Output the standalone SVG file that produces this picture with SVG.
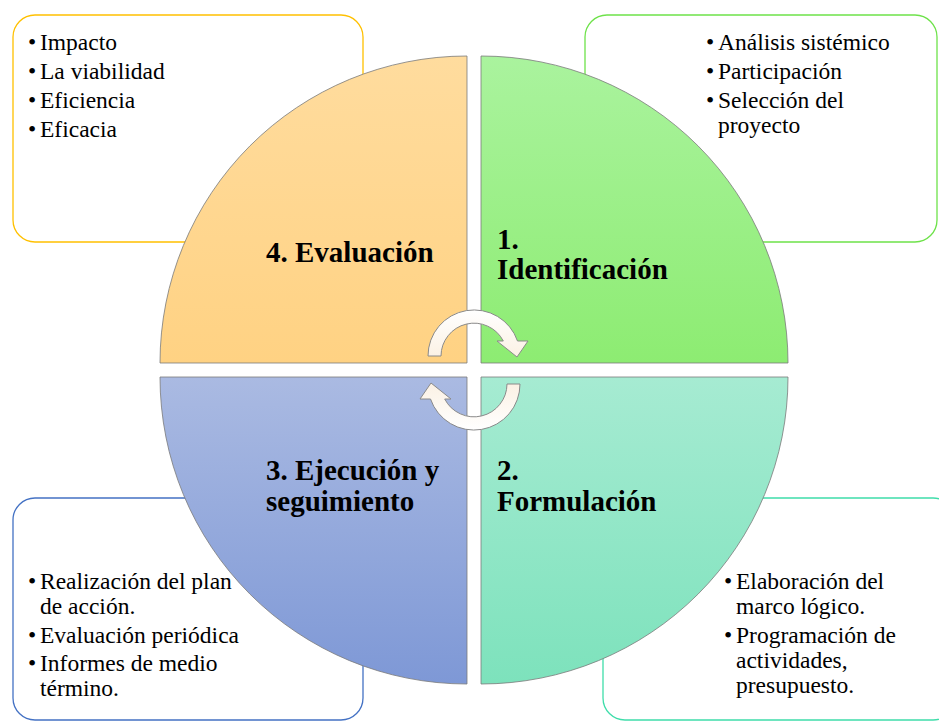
<svg xmlns="http://www.w3.org/2000/svg" width="939" height="721" viewBox="0 0 939 721">
<defs>
<linearGradient id="gTL" x1="0" y1="0" x2="0" y2="1"><stop offset="0" stop-color="#FFDC9E"/><stop offset="1" stop-color="#FFD283"/></linearGradient>
<linearGradient id="gTR" x1="0" y1="0" x2="0" y2="1"><stop offset="0" stop-color="#AAF39E"/><stop offset="1" stop-color="#8DEC72"/></linearGradient>
<linearGradient id="gBL" x1="0" y1="0" x2="0" y2="1"><stop offset="0" stop-color="#AABAE2"/><stop offset="1" stop-color="#7E98D6"/></linearGradient>
<linearGradient id="gBR" x1="0" y1="0" x2="0" y2="1"><stop offset="0" stop-color="#A6EBD2"/><stop offset="1" stop-color="#7DE2BC"/></linearGradient>
<linearGradient id="gArrow" x1="0" y1="0" x2="0" y2="1"><stop offset="0" stop-color="#FFFFFF"/><stop offset="1" stop-color="#FBF1E4"/></linearGradient>
<path id="arrow" d="M 428 356 A 46 46 0 0 1 517.5 341 L 528 341 L 517 357 L 497 341 L 503.3 341 A 33 33 0 0 0 441 356 Z"/>
</defs>
<style>
.box{fill:#fff;stroke-width:1.3}
.quad{stroke:#7a7a7a;stroke-width:1;stroke-opacity:0.8}
.t{font-family:'Liberation Serif','Tinos','Times New Roman','Noto Serif','DejaVu Serif',serif;font-size:23.5px;fill:#000}
.h{font-family:'Liberation Serif','Tinos','Times New Roman','Noto Serif','DejaVu Serif',serif;font-size:29px;font-weight:bold;fill:#000}
.arr{fill:url(#gArrow);stroke:#8a8a8a;stroke-width:1}
</style>
<rect width="939" height="721" fill="#fff"/>

<g id="box-evaluacion">
<rect class="box" x="13" y="15" width="350" height="227" rx="22" stroke="#FFC000"/>
<text class="t"><tspan x="28" y="50">•</tspan><tspan x="40" y="50">Impacto</tspan><tspan x="28" y="79">•</tspan><tspan x="40" y="79">La viabilidad</tspan><tspan x="28" y="108">•</tspan><tspan x="40" y="108">Eficiencia</tspan><tspan x="28" y="137">•</tspan><tspan x="40" y="137">Eficacia</tspan></text>
</g>
<g id="box-identificacion">
<rect class="box" x="585" y="15" width="352" height="227" rx="22" stroke="#6EE24A"/>
<text class="t"><tspan x="706" y="50">•</tspan><tspan x="718" y="50">Análisis sistémico</tspan><tspan x="706" y="79">•</tspan><tspan x="718" y="79">Participación</tspan><tspan x="706" y="108">•</tspan><tspan x="718" y="108">Selección del</tspan><tspan x="718" y="133">proyecto</tspan></text>
</g>
<g id="box-ejecucion">
<rect class="box" x="13" y="498" width="350" height="222" rx="22" stroke="#4472C4"/>
<text class="t"><tspan x="28" y="589">•</tspan><tspan x="40" y="589">Realización del plan</tspan><tspan x="40" y="614">de acción.</tspan><tspan x="28" y="643">•</tspan><tspan x="40" y="643">Evaluación periódica</tspan><tspan x="28" y="671">•</tspan><tspan x="40" y="671">Informes de medio</tspan><tspan x="40" y="696">término.</tspan></text>
</g>
<g id="box-formulacion">
<rect class="box" x="603" y="498" width="352" height="222" rx="22" stroke="#3FDDAA"/>
<text class="t"><tspan x="724" y="589">•</tspan><tspan x="736" y="589">Elaboración del</tspan><tspan x="736" y="614">marco lógico.</tspan><tspan x="724" y="643">•</tspan><tspan x="736" y="643">Programación de</tspan><tspan x="736" y="668">actividades,</tspan><tspan x="736" y="693">presupuesto.</tspan></text>
</g>

<g id="q4-evaluacion">
<path class="quad" fill="url(#gTL)" d="M 467 363 L 160 363 A 307 307 0 0 1 467 56 Z"/>
<text class="h" x="266" y="262">4. Evaluación</text>
</g>
<g id="q1-identificacion">
<path class="quad" fill="url(#gTR)" d="M 481 363 L 481 56 A 307 307 0 0 1 788 363 Z"/>
<text class="h"><tspan x="497" y="249">1.</tspan><tspan x="497" y="279">Identificación</tspan></text>
</g>
<g id="q2-formulacion">
<path class="quad" fill="url(#gBR)" d="M 481 377 L 788 377 A 307 307 0 0 1 481 684 Z"/>
<text class="h"><tspan x="497" y="480">2.</tspan><tspan x="497" y="511">Formulación</tspan></text>
</g>
<g id="q3-ejecucion">
<path class="quad" fill="url(#gBL)" d="M 467 377 L 467 684 A 307 307 0 0 1 160 377 Z"/>
<text class="h"><tspan x="266" y="480">3. Ejecución y</tspan><tspan x="266" y="511">seguimiento</tspan></text>
</g>

<g id="connectors">
<use href="#arrow" class="arr"/>
<use href="#arrow" class="arr" transform="rotate(180 474 370)"/>
</g>
</svg>
